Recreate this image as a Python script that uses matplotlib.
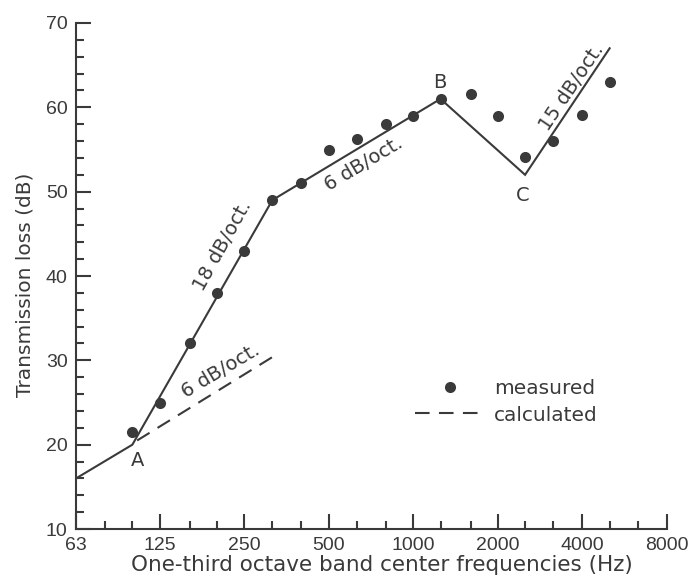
import matplotlib
matplotlib.use("Agg")
import matplotlib.pyplot as plt
from matplotlib.lines import Line2D

# ---- data ----
meas_freq = [100, 125, 160, 200, 250, 315, 400, 500, 630, 800, 1000, 1250, 1600, 2000, 2500, 3150, 4000, 5000]
meas_tl = [21.5, 25, 32, 38, 43, 49, 51, 55, 56.2, 58, 59, 61, 61.6, 59, 54.1, 56, 59.1, 63]

fit_freq = [63, 100, 315, 1250, 2500, 5000]
fit_tl = [16, 20, 49, 61, 52, 67]

calc_freq = [104, 330]
calc_tl = [20.5, 30.8]

major_freqs = [63, 125, 250, 500, 1000, 2000, 4000, 8000]
major_labels = ["63", "125", "250", "500", "1000", "2000", "4000", "8000"]
minor_freqs = [80, 100, 160, 200, 315, 400, 630, 800, 1250, 1600, 2500, 3150, 5000, 6300]
y_major = [10, 20, 30, 40, 50, 60, 70]
y_minor = [12, 14, 16, 18, 22, 24, 26, 28, 32, 34, 36, 38, 42, 44, 46, 48, 52, 54, 56, 58, 62, 64, 66, 68]

# annotation positions (text)
slope_labels = [("18 dB/oct.", 209, 43.6, 61), ("6 dB/oct.", 667, 53.3, 31),
                ("15 dB/oct.", 3655, 62.4, 56), ("6 dB/oct.", 206, 28.7, 31)]
point_labels = [("A", 104, 18.1), ("B", 1240, 62.9), ("C", 2450, 49.6)]

ink = "#3a3a3a"
txtfont = ['DejaVu Sans']
numfont = ['Liberation Sans', 'DejaVu Sans']
plt.rcParams['font.family'] = numfont

fig = plt.figure(figsize=(6.99, 5.82), dpi=100)
ax = fig.add_axes([0.1087, 0.091, 0.8455, 0.8695])
ax.set_xscale('log')
ax.set_xlim(63, 8000)
ax.set_ylim(10, 70)

ax.plot(fit_freq, fit_tl, color=ink, lw=1.5, solid_joinstyle='miter')
ax.plot(calc_freq, calc_tl, color=ink, lw=1.5, dashes=(7, 4.5))
ax.plot(meas_freq, meas_tl, 'o', color=ink, ms=8, mec='none')

for s in ['top', 'right']:
    ax.spines[s].set_visible(False)
for s in ['left', 'bottom']:
    ax.spines[s].set_color(ink)
    ax.spines[s].set_linewidth(1.5)

ax.set_xticks(major_freqs)
ax.set_xticklabels(major_labels)
ax.set_xticks(minor_freqs, minor=True)
ax.set_xticklabels([], minor=True)
ax.set_yticks(y_major)
ax.set_yticks(y_minor, minor=True)
ax.tick_params(which='both', direction='in', color=ink, labelcolor=ink, labelsize=14, width=1.5)
ax.tick_params(which='major', length=11)
ax.tick_params(which='minor', length=6)
ax.tick_params(axis='y', pad=6)
ax.tick_params(axis='x', pad=6)

ax.set_xlabel("One-third octave band center frequencies (Hz)", fontsize=15.5, color=ink, family=txtfont)
ax.set_ylabel("Transmission loss (dB)", fontsize=14.5, color=ink, family=txtfont)
ax.xaxis.set_label_coords(0.518, -0.052)
ax.yaxis.set_label_coords(-0.07, 0.482)

for txt, f, v, rot in slope_labels:
    ax.text(f, v, txt, rotation=rot, ha='center', va='center', fontsize=14, color=ink,
            rotation_mode='anchor', family=txtfont)
for txt, f, v in point_labels:
    ax.text(f, v, txt, ha='center', va='center', fontsize=14, color=ink, family=txtfont)

handles = [Line2D([], [], marker='o', ls='none', color=ink, ms=8, mec='none'),
           Line2D([], [], color=ink, lw=1.5, dashes=(7, 4.5))]
leg = ax.legend(handles, ["measured", "calculated"], loc='center left',
                bbox_to_anchor=(0.574, 0.251), frameon=False,
                prop={'family': txtfont, 'size': 14.5},
                handlelength=3.5, handletextpad=0.4, labelspacing=0.35,
                borderpad=0, borderaxespad=0)
for t in leg.get_texts():
    t.set_color(ink)

fig.savefig("out.png", dpi=100, facecolor='white')
